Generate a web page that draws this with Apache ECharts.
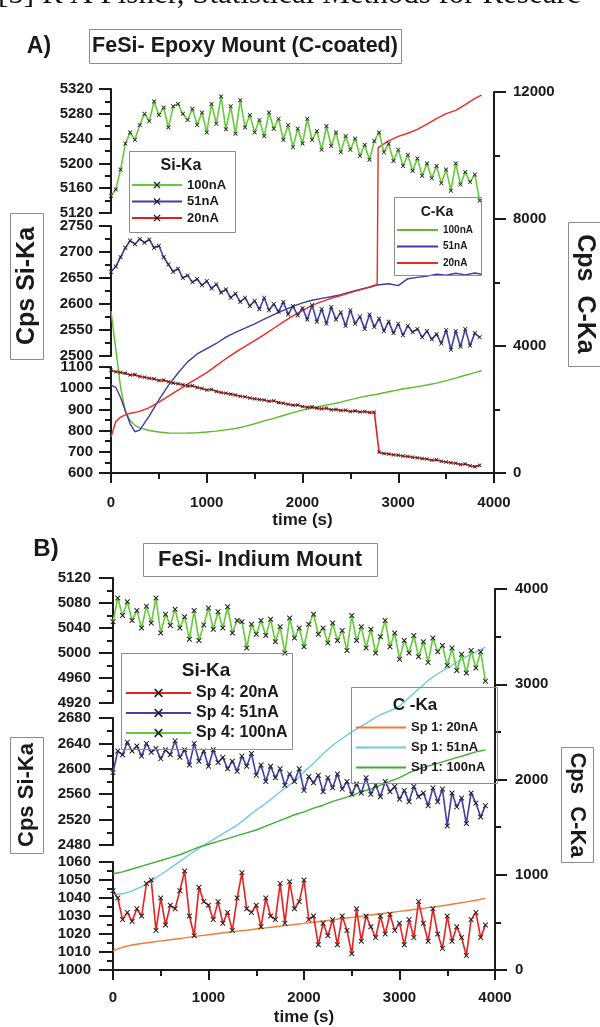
<!DOCTYPE html>
<html><head><meta charset="utf-8">
<script src="https://cdn.jsdelivr.net/npm/echarts@6/dist/echarts.min.js"></script>
<style>html,body{margin:0;padding:0;background:#fff}#c{width:600px;height:1027px}</style>
</head><body><div id="c"></div>
<script>
// ---------- Panel A: FeSi- Epoxy Mount (C-coated) ----------
const tSiA = [0,50,100,150,200,250,300,350,400,450,500,550,600,650,700,750,800,850,900,950,1000,1050,1100,1150,1200,1250,1300,1350,1400,1450,1500,1550,1600,1650,1700,1750,1800,1850,1900,1950,2000,2050,2100,2150,2200,2250,2300,2350,2400,2450,2500,2550,2600,2650,2700,2750,2800,2850,2900,2950,3000,3050,3100,3150,3200,3250,3300,3350,3400,3450,3500,3550,3600,3650,3700,3750,3800,3850];
const siA100 = [5148,5158,5190,5232,5250,5238,5262,5280,5268,5300,5278,5290,5258,5292,5296,5280,5270,5288,5262,5282,5250,5296,5264,5308,5255,5292,5248,5302,5258,5278,5250,5270,5244,5282,5256,5272,5238,5262,5226,5256,5232,5272,5238,5252,5222,5260,5228,5250,5218,5244,5222,5240,5212,5230,5206,5236,5250,5218,5232,5204,5222,5196,5214,5188,5208,5180,5200,5176,5196,5168,5190,5156,5200,5166,5186,5170,5182,5140];
const siA51 = [2662,2672,2690,2708,2722,2715,2725,2718,2724,2708,2712,2690,2676,2662,2668,2650,2655,2642,2648,2636,2644,2630,2638,2622,2628,2612,2620,2604,2612,2596,2606,2590,2612,2588,2600,2585,2604,2580,2596,2578,2592,2570,2598,2566,2590,2562,2594,2570,2584,2558,2588,2562,2576,2552,2580,2556,2572,2548,2566,2544,2562,2540,2558,2546,2552,2536,2548,2532,2542,2524,2550,2512,2548,2518,2552,2520,2544,2536];
const siA20 = [1085,1078,1074,1070,1062,1064,1055,1052,1047,1044,1036,1038,1030,1024,1021,1016,1010,1012,1003,999,992,994,985,980,976,972,968,962,960,954,950,947,944,938,941,932,929,924,920,921,914,910,912,906,903,905,898,900,895,896,890,893,888,890,885,887,698,692,690,686,684,680,678,674,672,668,666,660,662,655,652,648,646,640,642,634,630,636];
const tCA = [0,50,100,150,200,250,300,400,500,600,700,800,900,1000,1100,1200,1300,1400,1500,1600,1700,1800,1900,2000,2100,2200,2300,2400,2500,2600,2700,2780,2790,2900,3000,3100,3200,3300,3400,3500,3600,3700,3800,3870];
const cA100 = [5100,3900,2700,1950,1650,1500,1420,1340,1290,1260,1255,1260,1270,1290,1320,1360,1400,1470,1550,1640,1720,1810,1900,1980,2040,2110,2170,2230,2310,2380,2440,2480,2490,2560,2620,2670,2720,2770,2830,2910,2990,3080,3160,3220];
const cA51 = [2770,2700,2380,1950,1550,1300,1350,1800,2300,2760,3150,3500,3750,3920,4080,4280,4430,4560,4700,4850,4990,5120,5250,5360,5440,5500,5550,5620,5700,5780,5850,5920,5930,5960,5900,6120,6160,6200,6260,6230,6290,6240,6300,6260];
const cA20 = [1130,1620,1760,1830,1880,1910,1940,2060,2230,2420,2610,2800,2980,3160,3380,3600,3800,3990,4170,4360,4560,4760,4950,5120,5280,5400,5500,5590,5680,5770,5860,5940,10250,10460,10600,10700,10820,10990,11160,11320,11420,11600,11800,11900];

// ---------- Panel B: FeSi- Indium Mount ----------
const tSiB = [0,50,100,150,200,250,300,350,400,450,500,550,600,650,700,750,800,850,900,950,1000,1050,1100,1150,1200,1250,1300,1350,1400,1450,1500,1550,1600,1650,1700,1750,1800,1850,1900,1950,2000,2050,2100,2150,2200,2250,2300,2350,2400,2450,2500,2550,2600,2650,2700,2750,2800,2850,2900,2950,3000,3050,3100,3150,3200,3250,3300,3350,3400,3450,3500,3550,3600,3650,3700,3750,3800,3850,3900];
const siB100 = [5050,5088,5060,5082,5052,5068,5040,5075,5048,5088,5032,5062,5044,5070,5040,5058,5022,5068,5020,5045,5072,5038,5066,5040,5074,5032,5052,5050,5008,5046,5030,5052,5028,5054,5018,5042,5000,5056,5024,5040,5010,5046,5062,5030,5040,5016,5048,5020,5036,5004,5060,5020,5042,5008,5038,5000,5026,5052,5010,5032,4990,5020,5000,5028,4994,5018,4985,5024,5002,5012,4980,5008,4972,4998,4968,5004,4976,5002,4955];
const siB51 = [2594,2628,2622,2642,2628,2636,2620,2640,2626,2632,2616,2630,2622,2644,2618,2630,2606,2640,2612,2628,2604,2630,2610,2618,2600,2612,2596,2620,2604,2624,2590,2606,2580,2604,2586,2600,2574,2592,2580,2600,2566,2588,2578,2590,2564,2586,2570,2592,2568,2580,2560,2576,2562,2586,2560,2574,2556,2580,2564,2572,2552,2566,2548,2572,2556,2562,2542,2570,2548,2568,2510,2562,2540,2554,2514,2562,2546,2524,2542];
const siB20 = [1044,1040,1028,1032,1027,1034,1030,1048,1050,1022,1040,1025,1036,1034,1044,1055,1030,1019,1046,1038,1036,1028,1038,1026,1032,1022,1040,1054,1034,1032,1036,1024,1040,1030,1028,1048,1026,1049,1034,1038,1050,1028,1030,1014,1026,1019,1028,1014,1030,1022,1009,1034,1016,1030,1024,1018,1030,1020,1031,1022,1026,1014,1028,1018,1038,1026,1016,1034,1020,1012,1030,1016,1024,1018,1008,1028,1032,1018,1025];
const tCB = [0,100,200,300,400,500,600,700,800,900,1000,1100,1200,1300,1400,1500,1600,1700,1800,1900,2000,2100,2200,2300,2400,2500,2600,2700,2800,2900,3000,3100,3200,3300,3400,3500,3600,3700,3800,3900];
const cB20 = [200,240,262,278,292,306,318,330,345,358,370,383,396,408,418,430,442,454,466,477,490,502,514,526,540,553,566,578,590,602,615,628,642,655,668,682,698,715,732,752];
const cB51 = [790,800,830,875,935,1000,1070,1140,1210,1280,1340,1400,1460,1520,1600,1680,1750,1830,1910,1980,2080,2170,2270,2360,2430,2500,2560,2620,2680,2720,2770,2860,2950,3040,3110,3170,3230,3290,3340,3390];
const cB100 = [1010,1030,1060,1090,1120,1150,1180,1210,1250,1290,1320,1350,1380,1410,1440,1470,1510,1550,1590,1630,1660,1700,1730,1770,1800,1830,1870,1900,1940,1980,2020,2070,2110,2140,2170,2200,2230,2260,2290,2310];

const xTicks = {min:0, max:4000, interval:1000};

const INK = '#1a1a1a';
const FONT = 'Liberation Sans';
const XSYM = 'path://M0,1.3L1.3,0L5,3.7L8.7,0L10,1.3L6.3,5L10,8.7L8.7,10L5,6.3L1.3,10L0,8.7L3.7,5Z';
const plain = v => String(v);

const grids = [
  {left:111, width:383, top:89,  height:124},
  {left:111, width:383, top:226, height:130},
  {left:111, width:383, top:367, height:106},
  {left:111, width:383, top:92,  height:381},
  {left:113, width:382, top:578, height:125},
  {left:113, width:382, top:718, height:127},
  {left:113, width:382, top:862, height:108},
  {left:113, width:382, top:589, height:381}
];

function xAx(gi, show, gap) {
  return {type:'value', gridIndex:gi, min:xTicks.min, max:xTicks.max, interval:xTicks.interval, show:show,
    axisLine:{show:true, onZero:false, lineStyle:{color:INK, width:2}},
    axisTick:{show:true, length:10, lineStyle:{color:INK, width:2}},
    minorTick:{show:true, splitNumber:2, length:6, lineStyle:{color:INK, width:2}},
    splitLine:{show:false},
    axisLabel:{margin:gap, formatter:plain, fontFamily:FONT, fontWeight:'bold', fontSize:15, color:INK},
    name:'time (s)', nameLocation:'middle', nameGap:39,
    nameTextStyle:{fontFamily:FONT, fontWeight:'bold', fontSize:17, color:INK}};
}
function yAx(gi, min, max, interval, pos, margin, tickLen) {
  return {type:'value', gridIndex:gi, min:min, max:max, interval:interval, position:pos,
    axisLine:{show:true, onZero:false, lineStyle:{color:INK, width:2}},
    axisTick:{show:true, length:tickLen, lineStyle:{color:INK, width:2}},
    minorTick:{show:true, splitNumber:2, length:6, lineStyle:{color:INK, width:2}},
    splitLine:{show:false},
    axisLabel:{margin:margin, formatter:plain, fontFamily:FONT, fontWeight:'bold', fontSize:15, color:INK}};
}

function siS(name, gi, t, v, color, size) {
  return {type:'line', name:name, xAxisIndex:gi, yAxisIndex:gi,
    data:t.map((x,i)=>[x, v[i]]), symbol:XSYM, symbolSize:size, showAllSymbol:true,
    itemStyle:{color:'#222'}, lineStyle:{color:color, width:1.6}, z:5, silent:true};
}
function cS(name, gi, t, v, color) {
  return {type:'line', name:name, xAxisIndex:gi, yAxisIndex:gi,
    data:t.map((x,i)=>[x, v[i]]), symbol:'none', itemStyle:{color:color},
    lineStyle:{color:color, width:1.4}, z:3, silent:true};
}

const series = [
  cS('C 100nA', 3, tCA, cA100, '#5cbc2c'),
  cS('C 51nA', 3, tCA, cA51, '#3c3ca4'),
  cS('C 20nA', 3, tCA, cA20, '#ec2a24'),
  siS('Si 100nA', 0, tSiA, siA100, '#66c93a', 4.5),
  siS('Si 51nA', 1, tSiA, siA51, '#3f3fa6', 4.5),
  siS('Si 20nA', 2, tSiA, siA20, '#e02020', 4),
  cS('Sp 1: 20nA', 7, tCB, cB20, '#f27a32'),
  cS('Sp 1: 51nA', 7, tCB, cB51, '#72c8e2'),
  cS('Sp 1: 100nA', 7, tCB, cB100, '#3fae34'),
  siS('Sp 4: 100nA', 4, tSiB, siB100, '#66c93a', 5.5),
  siS('Sp 4: 51nA', 5, tSiB, siB51, '#3f3fa6', 5.5),
  siS('Sp 4: 20nA', 6, tSiB, siB20, '#e82020', 5.5)
];

function lg(data, left, top, iw, ih, gap, fs, lh, fmt, icon) {
  const o = {data:data, orient:'vertical', left:left, top:top, itemWidth:iw, itemHeight:ih, itemGap:gap,
    padding:0, selectedMode:false, formatter:fmt,
    textStyle:{fontFamily:FONT, fontWeight:'bold', fontSize:fs, lineHeight:lh, color:INK}};
  if (icon) o.icon = icon;
  return o;
}

function box(x, y, w, h) {
  return {type:'rect', shape:{x:x, y:y, width:w, height:h}, style:{fill:'none', stroke:'#8c8c8c', lineWidth:1}, z:10};
}
function txt(x, y, s, size, rot, fam) {
  return {type:'text', x:x, y:y, rotation:rot||0, z:11,
    style:{x:0, y:0, text:s, fill:INK, font:'bold ' + size + 'px ' + (fam || FONT),
      textAlign:'center', textVerticalAlign:'middle', align:'center', verticalAlign:'middle'}};
}

const graphics = [
  {type:'text', x:-2, y:10, z:11, style:{x:0, y:0, text:'[5] R A Fisher, Statistical Methods for Researc', fill:'#111',
    font:'31px Liberation Serif', textAlign:'left', textVerticalAlign:'bottom', align:'left', verticalAlign:'bottom'}},
  txt(39, 47, 'A)', 23),
  box(89.5, 29.5, 312, 34), txt(245, 46.5, 'FeSi- Epoxy Mount (C-coated)', 21.5),
  box(10.5, 213.5, 33, 146), txt(27, 286, 'Cps Si-Ka', 25, Math.PI/2),
  box(568.5, 222.5, 33, 144), txt(585, 294, 'Cps  C-Ka', 25, -Math.PI/2),
  box(129.5, 151.5, 106, 81), txt(181, 166, 'Si-Ka', 16),
  box(394.5, 197.5, 87, 78), txt(437, 212, 'C-Ka', 14),
  txt(46, 549, 'B)', 24),
  box(143.5, 543.5, 234, 33), txt(260, 560, 'FeSi- Indium Mount', 22),
  box(10.5, 737.5, 33, 116), txt(27, 795, 'Cps Si-Ka', 22, Math.PI/2),
  box(561.5, 747.5, 32, 115), txt(577, 805, 'Cps  C-Ka', 22, -Math.PI/2),
  box(121.5, 653.5, 171, 96), txt(206, 671, 'Si-Ka', 19),
  box(351.5, 687.5, 146, 96), txt(415, 705, 'C -Ka', 17)
];

const chart = echarts.init(document.getElementById('c'), null, {renderer:'canvas'});
chart.setOption({
  animation:false,
  backgroundColor:'#ffffff',
  grid:grids,
  xAxis:[xAx(0,false,22), xAx(1,false,22), xAx(2,true,22), xAx(3,false,22),
         xAx(4,false,20), xAx(5,false,20), xAx(6,true,20), xAx(7,false,20)],
  yAxis:[yAx(0,5120,5320,40,'left',18,12), yAx(1,2500,2750,50,'left',18,12), yAx(2,600,1100,100,'left',18,12),
         yAx(3,0,12000,4000,'right',19,12),
         yAx(4,4920,5120,40,'left',22,14), yAx(5,2480,2680,40,'left',22,14), yAx(6,1000,1060,10,'left',22,14),
         yAx(7,0,4000,1000,'right',20,12)],
  legend:[
    lg(['Si 100nA','Si 51nA','Si 20nA'], 131, 178, 50, 9, 2.5, 13, 14, n=>n.replace('Si ','')),
    lg(['C 100nA','C 51nA','C 20nA'], 397, 224, 41, 2, 4.5, 10, 12, n=>n.replace('C ',''), 'rect'),
    lg(['Sp 4: 20nA','Sp 4: 51nA','Sp 4: 100nA'], 125, 684, 65, 11, 2, 16, 18, n=>n),
    lg(['Sp 1: 20nA','Sp 1: 51nA','Sp 1: 100nA'], 356, 720, 50, 2, 5, 13, 15, n=>n, 'rect')
  ],
  graphic:graphics,
  series:series
});
</script>
</body></html>
